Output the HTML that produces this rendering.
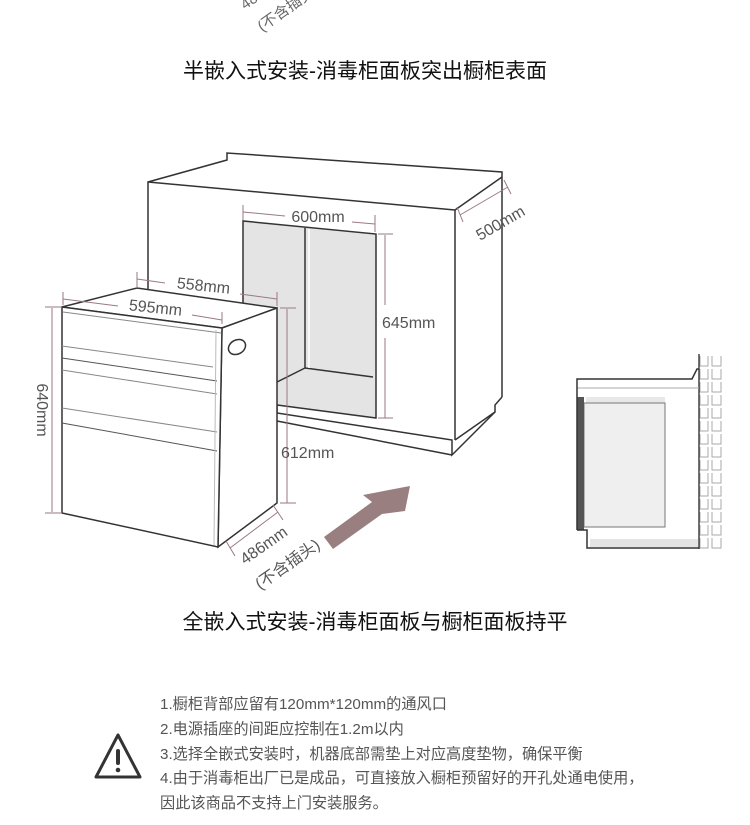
<!DOCTYPE html>
<html><head><meta charset="utf-8"><style>
body{margin:0;background:#fff;width:750px;height:825px;overflow:hidden;font-family:"Liberation Sans","Noto Sans CJK SC",sans-serif}
svg{position:absolute;left:0;top:0}
</style></head><body>
<svg width="750" height="825" viewBox="0 0 750 825" xmlns="http://www.w3.org/2000/svg" font-family="Liberation Sans, Noto Sans CJK SC, sans-serif">
<g fill="#666" font-size="15">
<text x="245" y="10" transform="rotate(-35 245 10)">486mm</text>
<text x="262" y="32" transform="rotate(-35 262 32)">(不含插头)</text>
</g>
<text x="365" y="78" font-size="21" fill="#111" text-anchor="middle">半嵌入式安装-消毒柜面板突出橱柜表面</text>

<g stroke="#333" stroke-width="1.5" fill="none">
<polyline points="148,420 148,182 227,160 227,153 502,172 502,177" />
<line x1="148" y1="182" x2="455" y2="210"/>
<line x1="455" y1="210" x2="502" y2="177"/>
<line x1="455" y1="210" x2="455" y2="440"/>
<line x1="502" y1="177" x2="502" y2="397"/>
<polyline points="502,397 495,405 495,412 455,440"/>
<polyline points="277,405 277,413 452,440 452,455 495,412"/>
<line x1="277" y1="421" x2="452" y2="455"/>
</g>
<polygon points="243,221 376,234 376,418 277,405 277,360 243,360" fill="#e4e4e4"/>
<g stroke="#333" stroke-width="1.5" fill="none">
<polyline points="243,360 243,221 376,234 376,418 277,405"/>
<line x1="305" y1="228" x2="305" y2="368"/>
<line x1="305" y1="368" x2="373" y2="377"/>
<line x1="305" y1="368" x2="277" y2="382"/>
<line x1="309" y1="229" x2="309" y2="368" stroke="#fff" stroke-width="1.5"/>
</g>

<polygon points="62,307 137,288 277,308 222,328" fill="#fff" stroke="#333" stroke-width="1.5"/>
<polygon points="222,328 277,308 277,503 218,547" fill="#fff" stroke="#333" stroke-width="1.5"/>
<polygon points="62,307 222,328 218,547 62,513" fill="#fff" stroke="#333" stroke-width="1.5"/>
<ellipse cx="237" cy="347" rx="9" ry="7" transform="rotate(-30 237 347)" fill="none" stroke="#333" stroke-width="1.5"/>
<g stroke="#888" stroke-width="1" fill="none">
<line x1="63" y1="312" x2="221" y2="333"/>
<line x1="62" y1="346" x2="213" y2="367"/>
<line x1="62" y1="358" x2="217" y2="381" stroke="#555"/>
<line x1="62" y1="370" x2="217" y2="394"/>
<line x1="62" y1="408" x2="217" y2="432"/>
<line x1="62" y1="423" x2="217" y2="451" stroke="#555"/>
<line x1="216" y1="330" x2="214" y2="545" stroke="#bbb"/>
</g>

<g stroke="#9a7a80" stroke-width="1" fill="#9a7a80">
<line x1="52" y1="308" x2="52" y2="512"/><line x1="45" y1="307" x2="62" y2="307"/><line x1="45" y1="513" x2="62" y2="513"/>
<line x1="63" y1="299" x2="118" y2="306"/><line x1="192" y1="315" x2="222" y2="320"/><line x1="63" y1="292" x2="63" y2="305"/><line x1="222" y1="312" x2="222" y2="324"/>
<line x1="137" y1="279" x2="165" y2="283"/><line x1="240" y1="294" x2="277" y2="299"/><line x1="137" y1="272" x2="137" y2="288"/><line x1="277" y1="292" x2="277" y2="306"/>
<line x1="287" y1="309" x2="287" y2="503"/><line x1="280" y1="308" x2="296" y2="308"/><line x1="280" y1="503" x2="296" y2="503"/>
<line x1="243" y1="212" x2="285" y2="216"/><line x1="352" y1="222" x2="375" y2="224"/><line x1="243" y1="205" x2="243" y2="220"/><line x1="375" y1="215" x2="375" y2="232"/>
<line x1="385" y1="235" x2="385" y2="305"/><line x1="385" y1="338" x2="385" y2="418"/><line x1="378" y1="234" x2="393" y2="234"/><line x1="378" y1="418" x2="393" y2="418"/>
<line x1="460" y1="215" x2="508" y2="187"/><line x1="457" y1="207" x2="463" y2="222"/><line x1="504" y1="180" x2="511" y2="194"/>
<line x1="230" y1="548" x2="278" y2="512"/><line x1="226" y1="541" x2="235" y2="556"/><line x1="273" y1="505" x2="283" y2="520"/>
</g>
<g fill="#555" font-size="16">
<text x="37" y="410" transform="rotate(90 37 410)" text-anchor="middle">640mm</text>
<text x="155" y="313" transform="rotate(6 155 313)" text-anchor="middle">595mm</text>
<text x="203" y="291" transform="rotate(6 203 291)" text-anchor="middle">558mm</text>
<text x="281" y="458">612mm</text>
<text x="318" y="222" text-anchor="middle">600mm</text>
<text x="382" y="328">645mm</text>
<text x="480" y="241" transform="rotate(-30 480 241)">500mm</text>
<text x="245" y="565" transform="rotate(-35 245 565)">486mm</text>
<text x="260" y="590" transform="rotate(-35 260 590)">(不含插头)</text>
</g>
<polygon points="324,537 372,502 363,495 410,486 405,511 382,514 333,549" fill="#9a7f80"/>

<rect x="700" y="353" width="24" height="196" fill="#fff"/>
<g stroke="#aaa" stroke-width="1" fill="none">
<path d="M700 356v10h8v-10 M712 356v10h9v-10 M700 369v10h8v-10 M712 369v10h9v-10 M700 382v10h8v-10 M712 382v10h9v-10 M700 395v10h8v-10 M712 395v10h9v-10 M700 408v10h8v-10 M712 408v10h9v-10 M700 421v10h8v-10 M712 421v10h9v-10 M700 434v10h8v-10 M712 434v10h9v-10 M700 447v10h8v-10 M712 447v10h9v-10 M700 460v10h8v-10 M712 460v10h9v-10 M700 473v10h8v-10 M712 473v10h9v-10 M700 486v10h8v-10 M712 486v10h9v-10 M700 499v10h8v-10 M712 499v10h9v-10 M700 512v10h8v-10 M712 512v10h9v-10 M700 525v10h8v-10 M712 525v10h9v-10 M700 538v10h8v-10 M712 538v10h9v-10"/>
</g>
<line x1="699" y1="354" x2="699" y2="549" stroke="#444" stroke-width="1.5"/>
<rect x="590" y="539" width="108" height="8" fill="#e4e4e4"/>
<rect x="586" y="397" width="79" height="6" fill="#e8e8e8"/>
<rect x="584" y="403" width="81" height="124" fill="#efefef" stroke="#777" stroke-width="1"/>
<rect x="577" y="397" width="7" height="133" fill="#555"/>
<line x1="577" y1="388" x2="699" y2="388" stroke="#aaa" stroke-width="1"/>
<polyline points="577,530 577,379 692,379 697,369 699,369" fill="none" stroke="#333" stroke-width="1.5"/>
<polyline points="577,530 587,530 587,548 699,548" fill="none" stroke="#333" stroke-width="1.5"/>

<text x="375" y="629" font-size="21" fill="#111" text-anchor="middle">全嵌入式安装-消毒柜面板与橱柜面板持平</text>

<polygon points="118,735 96,777 140,777" fill="none" stroke="#333" stroke-width="3" stroke-linejoin="round"/>
<rect x="116" y="749" width="4" height="16" rx="2" fill="#333"/>
<circle cx="118" cy="770" r="2.3" fill="#333"/>
<g fill="#555" font-size="15.2">
<text x="160" y="709">1.橱柜背部应留有120mm*120mm的通风口</text>
<text x="160" y="734">2.电源插座的间距应控制在1.2m以内</text>
<text x="160" y="759">3.选择全嵌式安装时，机器底部需垫上对应高度垫物，确保平衡</text>
<text x="160" y="783">4.由于消毒柜出厂已是成品，可直接放入橱柜预留好的开孔处通电使用，</text>
<text x="160" y="808">因此该商品不支持上门安装服务。</text>
</g>
</svg>
</body></html>
